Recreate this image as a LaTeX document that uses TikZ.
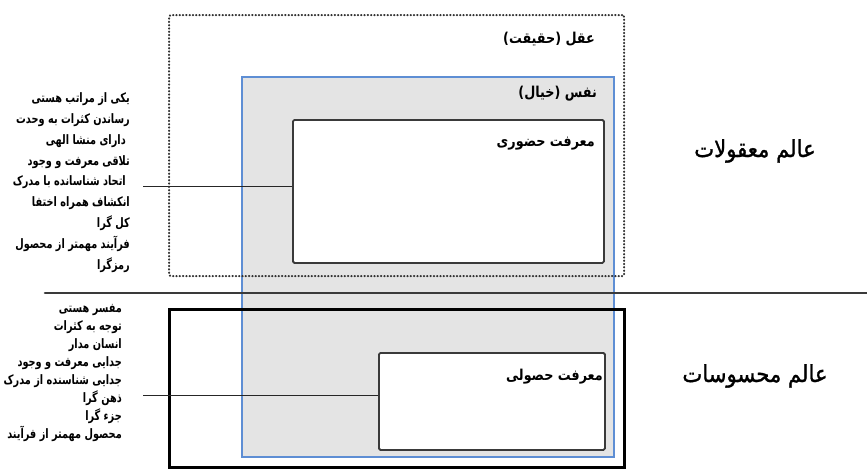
\documentclass[tikz,border=0pt]{standalone}
\usepackage{fontspec}
\TeXXeTstate=1
\newfontfamily\arabicwide[Script=Arabic,FakeStretch=0.9,FakeBold=1.2]{DejaVu Sans}
\newfontfamily\arabictitle[Script=Arabic,FakeStretch=0.85]{DejaVu Sans}
\newfontfamily\arabicnarrow[Script=Arabic,FakeStretch=0.75]{DejaVu Sans}
\newcommand{\rl}[1]{\beginR #1\endR}
\definecolor{boxgray}{HTML}{E4E4E4}
\definecolor{nafsblue}{HTML}{5E8ED4}
\definecolor{edgegray}{HTML}{3A3A3A}
\tikzset{
  listline/.style={font=\arabicnarrow\bfseries\fontsize{13}{15}\selectfont, anchor=east, inner sep=0pt, text height=9pt, text depth=3.5pt},
  boxtitle/.style={font=\arabictitle\bfseries\fontsize{15}{17}\selectfont, anchor=east, inner sep=0pt, text height=10pt, text depth=4pt},
  worldlabel/.style={font=\arabicwide\fontsize{23.5}{26}\selectfont, inner sep=0pt},
  whitebox/.style={draw=edgegray, line width=1.8pt, fill=white, rounded corners=1.5pt, inner sep=0pt, anchor=north west},
  connector/.style={draw=black!85, line width=1pt}
}
\begin{document}
\begin{tikzpicture}[x=1pt,y=-1pt]
\useasboundingbox (0,0) rectangle (867,469);

% soul (nafs) box
\node[draw=nafsblue, fill=boxgray, line width=2pt, minimum width=372pt, minimum height=380pt, inner sep=0pt, anchor=north west] (nafs) at (241,76) {};

% knowledge boxes
\node[whitebox, minimum width=311pt, minimum height=143pt] (huzuri) at (292,119) {};
\node[whitebox, minimum width=226pt, minimum height=97pt] (husuli) at (378,352) {};

% intellect box, drawn with round dots
\node[draw=black!80, line width=2.2pt, line cap=round, dash pattern=on 0.3pt off 3pt, rounded corners=2pt, minimum width=455pt, minimum height=261pt, inner sep=0pt, anchor=north west] (aql) at (168,14) {};

% sensible world box
\node[draw=black, line width=3pt, minimum width=455pt, minimum height=158pt, inner sep=0pt, anchor=north west] (hiss) at (168,308) {};

% dividing line between the two worlds
\coordinate (divL) at (45,293);
\coordinate (divR) at (867,293);
\draw[draw=edgegray, line width=2.6pt, line cap=round] (divL) -- (divR);

% box titles
\node[boxtitle] (taql) at (595,40) {\rl{عقل (حقیقت)}};
\node[boxtitle] (tnafs) at (597,94) {\rl{نفس (خیال)}};
\node[boxtitle] (thuz) at (595,143) {\rl{معرفت حضوری}};
\node[boxtitle] (thus) at (603,377) {\rl{معرفت حصولی}};

% world labels
\node[worldlabel] (wma) at (755,151) {\rl{عالم معقولات}};
\node[worldlabel] (wmh) at (755,376) {\rl{عالم محسوسات}};

% attribute list of presential knowledge
\foreach \t/\xr [count=\i] in {
  {یکی از مراتب هستی}/130,
  {رساندن کثرات به وحدت}/130,
  {دارای منشا الهی}/126,
  {تلاقی معرفت و وجود}/130,
  {اتحاد شناسانده با مدرک}/126,
  {انکشاف همراه اختفا}/130,
  {کل گرا}/130,
  {فرآیند مهمتر از محصول}/130,
  {رمزگرا}/130}
  \node[listline] (la\i) at (\xr,{100+20.8*(\i-1)}) {\rl{\t}};

% attribute list of acquired knowledge
\foreach \t [count=\i] in {
  {مفسر هستی},
  {توجه به کثرات},
  {انسان مدار},
  {جدایی معرفت و وجود},
  {جدایی شناسنده از مدرک},
  {ذهن گرا},
  {جزء گرا},
  {محصول مهمتر از فرآیند}}
  \node[listline] (lb\i) at (122,{310+17.9*(\i-1)}) {\rl{\t}};

% connectors from the lists to the knowledge boxes
\coordinate (ca) at (143,186);
\coordinate (cb) at (143,395);
\draw[connector] (ca) -- (ca -| huzuri.west);
\draw[connector] (cb) -- (cb -| husuli.west);
\end{tikzpicture}
\end{document}
